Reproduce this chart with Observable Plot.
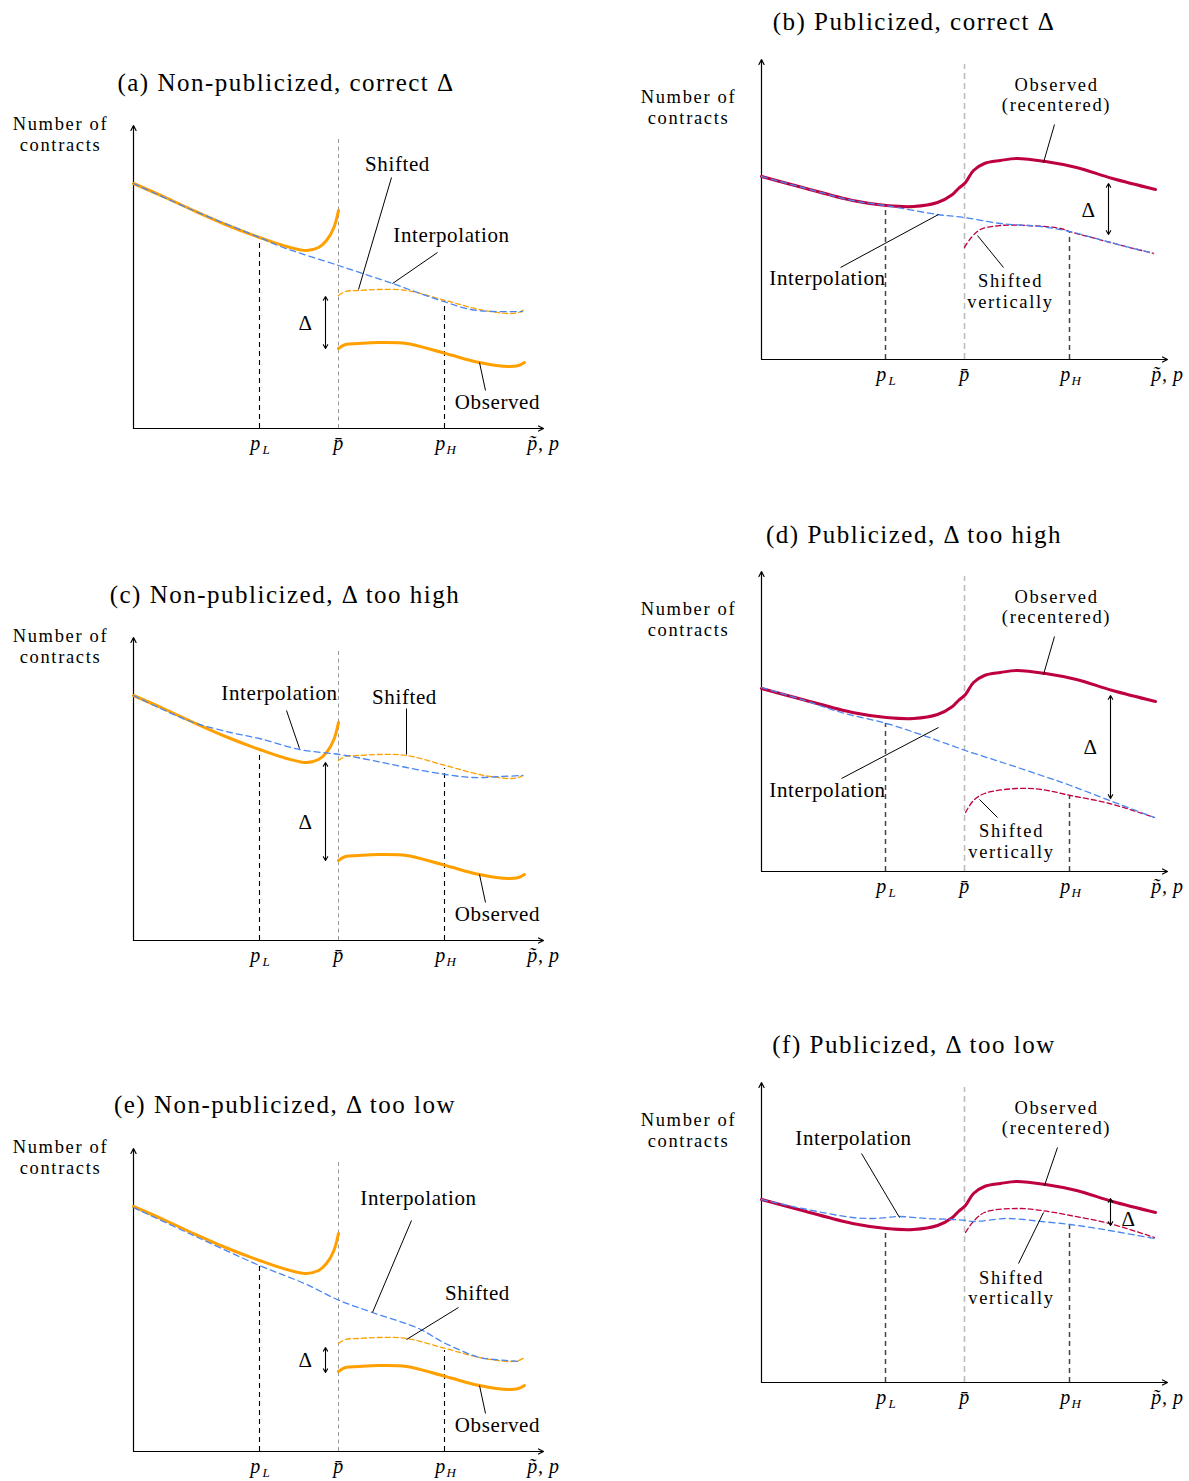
<!DOCTYPE html>
<html>
<head>
<meta charset="utf-8">
<script src="https://cdn.jsdelivr.net/npm/d3@7"></script>
<script src="https://cdn.jsdelivr.net/npm/@observablehq/plot@0.6"></script>
<style>
  body { margin: 0; background: #fff; }
  #fig { position: relative; width: 1189px; height: 1481px; font-family: "Liberation Serif", serif; background: #fff; }
  .title { position: absolute; width: 600px; text-align: center; font-size: 25px; line-height: 30px; letter-spacing: 0.06em; white-space: nowrap; color: #000; }
</style>
</head>
<body>
<div id="fig"></div>
<script>
// ---------------- DATA (x = price, y = number of contracts, arbitrary units) ----------------
const panelTitles = [
  "(a) Non-publicized, correct \u0394", "(b) Publicized, correct \u0394",
  "(c) Non-publicized, \u0394 too high", "(d) Publicized, \u0394 too high",
  "(e) Non-publicized, \u0394 too low", "(f) Publicized, \u0394 too low"
];
const tickMain = ["p", "p\u0304", "p", "p\u0303, p"];
const tickSub = ["L", "", "H", ""];
const leftTicks = [12.6, 20.5, 31.1, 41];
const rightTicks = [12.4, 20.3, 30.8, 40.6];

// Non-publicized (left column): observed curve (same in a, c, e)
const npObsLeftX = [0, 3.2, 6, 9.2, 12.6, 15.3, 17.3, 18.5, 19.3, 20, 20.5];
const npObsLeftY = [24.5, 23.1, 21.8, 20.4, 19.1, 18.2, 17.8, 18.1, 18.8, 20, 21.8];
const npObsRightX = [20.5, 21.2, 22.5, 24.5, 27.3, 31.2, 34.6, 37.5, 38.5, 39.1];
const npObsRightY = [8.0, 8.4, 8.5, 8.6, 8.5, 7.5, 6.6, 6.2, 6.3, 6.6];
// shifted curves (same x as npObsRightX)
const aShiftY = [13.3, 13.7, 13.8, 13.9, 13.8, 12.8, 11.9, 11.5, 11.6, 11.9];
const cShiftY = [18.0, 18.4, 18.5, 18.6, 18.5, 17.5, 16.6, 16.2, 16.3, 16.6];
const eShiftY = [10.8, 11.2, 11.3, 11.4, 11.3, 10.3, 9.4, 9.0, 9.1, 9.4];
// interpolations
const aInterpX = [0, 6, 12.6, 14.7, 20.5, 25.9, 28.4, 31, 33.7, 36, 38.9];
const aInterpY = [24.5, 21.8, 19.1, 18.2, 16.3, 14.5, 13.6, 12.7, 11.9, 11.7, 11.7];
const cInterpX = [0, 2.7, 6, 9.7, 12.6, 16.6, 20.6, 23.9, 27.3, 31.2, 33.9, 36.8, 38.9];
const cInterpY = [24.5, 23.2, 21.8, 20.8, 20.2, 19.1, 18.6, 18.0, 17.3, 16.6, 16.3, 16.4, 16.5];
const eInterpX = [0, 6, 12.6, 17.1, 20.6, 23.9, 28.5, 31.2, 34.6, 36.1, 38.6];
const eInterpY = [24.4, 21.6, 18.6, 16.8, 15.1, 13.9, 12.3, 10.8, 9.4, 9.2, 9.0];

// Publicized (right column): observed (recentered), same in b, d, f
const pubObsX = [0, 4.1, 9.1, 12.5, 15.2, 17.6, 19.1, 19.7, 20.4, 21.2, 22.3, 23.9, 25.5, 28.4, 31.5, 35.1, 39.4];
const pubObsY = [18.3, 17.2, 15.9, 15.4, 15.3, 15.7, 16.5, 17.1, 17.7, 18.9, 19.6, 19.9, 20.1, 19.8, 19.2, 18.1, 17.0];
const bInterpX = [0, 4.1, 9.1, 12.4, 17.6, 20.3, 23.9, 27.9, 30.8, 34.9, 39.2];
const bInterpY = [18.3, 17.2, 15.9, 15.4, 14.5, 14.2, 13.6, 13.3, 12.8, 11.7, 10.6];
const bShiftX = [20.3, 20.9, 21.9, 23.9, 26.6, 29.9, 30.8, 34.9, 39.2];
const bShiftY = [11.2, 12.1, 13.0, 13.4, 13.4, 13.1, 12.8, 11.7, 10.6];
const dInterpX = [0, 3.7, 8, 12.5, 16.2, 20.4, 24.4, 28, 30.9, 34.8, 39.3];
const dInterpY = [18.4, 17.3, 15.9, 14.8, 13.6, 12.1, 10.8, 9.6, 8.6, 7.1, 5.4];
const dShiftX = [20.4, 21.2, 22.3, 25.5, 28, 30.9, 34.8, 39.3];
const dShiftY = [5.9, 7.1, 7.8, 8.3, 8.2, 7.6, 6.8, 5.4];
const fInterpX = [0, 4.1, 9.1, 11.2, 12.5, 13.7, 16.6, 19.1, 20.4, 21.2, 24.4, 26.2, 28, 30.9, 34.8, 39.3];
const fInterpY = [18.3, 17.4, 16.5, 16.4, 16.5, 16.6, 16.4, 16.3, 16.2, 16.1, 16.4, 16.3, 16.1, 15.8, 15.2, 14.4];
const fShiftX = [20.4, 21.1, 22.3, 25.5, 28, 30.9, 34.8, 39.3];
const fShiftY = [15.0, 16.0, 17.0, 17.4, 17.2, 16.7, 15.9, 14.5];

// Δ arrows (bounds of the gap), and guide tops
const deltaBounds = { a: [13.2, 8.0], b: [17.6, 12.5], c: [17.8, 8.0], d: [17.6, 7.3], e: [10.4, 7.9], f: [18.4, 15.7] };
const guideTops = { a: [19.1, 12.8], b: [15.4, 12.8], c: [19.2, 17.2], d: [14.8, 7.6], e: [19.1, 10.1], f: [15.2, 15.8] };

// ---------------- HELPERS ----------------
const pts = (xs, ys) => xs.map((x, i) => ({ x, y: ys[i] }));
const ORANGE = "#FFA000", BLUE = "#4A86F2", CRIMSON = "#BF0040";
const FONT = '"Liberation Serif", serif';
const fig = document.getElementById("fig");

function drawPanel(p) {
  const left = p.side === "left";
  const xMax = left ? 41 : 40.6;
  const yMax = left ? 30.3 : 30.0;
  const ticks = left ? leftTicks : rightTicks;
  const mL = left ? 133 : 131;
  const width = left ? 570 : 559;
  const plotW = Math.round(xMax * 10), plotH = Math.round(yMax * 10);
  const mT = 17, mB = 40;
  const height = mT + plotH + mB;
  const mR = width - mL - plotW;
  const pbarTop = left ? 29.2 : 29.5;
  const [dTop, dBot] = deltaBounds[p.id];
  const dMid = (dTop + dBot) / 2;
  const [gL, gH] = guideTops[p.id];

  const marks = [];
  // p-bar guide
  marks.push(Plot.ruleX([ticks[1]], {
    x: d => d, y1: 0, y2: pbarTop,
    stroke: left ? "#9a9a9a" : "#bdbdbd", strokeWidth: left ? 1 : 1.6,
    strokeDasharray: left ? "4,3.5" : "6,4"
  }));
  // pL, pH guides
  marks.push(Plot.ruleX([{ x: ticks[0], top: gL }, { x: ticks[2], top: gH }], {
    x: "x", y1: 0, y2: "top",
    stroke: left ? "#000" : "#444", strokeWidth: left ? 1.1 : 1.5, strokeDasharray: "5,4"
  }));
  // axes
  marks.push(Plot.arrow([{ x1: 0, y1: 0, x2: xMax, y2: 0 }, { x1: 0, y1: 0, x2: 0, y2: yMax }], {
    x1: "x1", y1: "y1", x2: "x2", y2: "y2", stroke: "#000", strokeWidth: 1.2, headLength: 7, headAngle: 55
  }));
  // curves
  const mainColor = left ? ORANGE : CRIMSON;
  for (const seg of p.observed) {
    marks.push(Plot.line(seg, { x: "x", y: "y", curve: "catmull-rom", stroke: mainColor, strokeWidth: 3 }));
  }
  marks.push(Plot.line(p.shifted, { x: "x", y: "y", curve: "catmull-rom", stroke: mainColor, strokeWidth: 1.3, strokeDasharray: "5,3" }));
  marks.push(Plot.line(p.interp, { x: "x", y: "y", curve: "catmull-rom", stroke: BLUE, strokeWidth: 1.3, strokeDasharray: "6,4" }));
  // Δ arrow (double-headed)
  marks.push(Plot.arrow([{ y2: dTop }, { y2: dBot }], {
    x1: p.deltaX, x2: p.deltaX, y1: dMid, y2: "y2", stroke: "#000", strokeWidth: 1.1, headLength: 6, headAngle: 60
  }));
  // leader lines
  marks.push(Plot.link(p.leaders, { x1: "x1", y1: "y1", x2: "x2", y2: "y2", stroke: "#000", strokeWidth: 1 }));
  // labels: single-line and two-line
  const yl = left ? 29.45 : 25.25;
  const labels = [{ x: -7.3, y: yl, t: "Number of\ncontracts" }, ...p.labels];
  marks.push(Plot.text(labels.filter(d => !d.t.includes("\n")), { x: "x", y: "y", text: "t", fontSize: 21, fontFamily: FONT, fill: "#000" }));
  marks.push(Plot.text(labels.filter(d => d.t.includes("\n")), { x: "x", y: "y", text: "t", fontSize: 18.5, lineHeight: 1.12, fontFamily: FONT, fill: "#000" }));
  // tick labels
  const tl = ticks.map((x, i) => ({ x, main: tickMain[i], sub: tickSub[i] }));
  marks.push(Plot.text(tl.filter(d => d.sub), {
    x: "x", y: 0, text: "main", fontSize: 20, fontStyle: "italic", fontFamily: FONT, fill: "#000", dy: 15, dx: -4
  }));
  marks.push(Plot.text(tl.filter(d => !d.sub), {
    x: "x", y: 0, text: "main", fontSize: 20, fontStyle: "italic", fontFamily: FONT, fill: "#000", dy: 15
  }));
  marks.push(Plot.text(tl.filter(d => d.sub), {
    x: "x", y: 0, text: "sub", fontSize: 13, fontStyle: "italic", fontFamily: FONT, fill: "#000", dy: 21, dx: 7
  }));

  const svg = Plot.plot({
    width, height, marginLeft: mL, marginRight: mR, marginTop: mT, marginBottom: mB,
    x: { domain: [0, xMax], axis: null },
    y: { domain: [0, yMax], axis: null },
    style: { fontFamily: FONT, letterSpacing: "0.06em", background: "transparent", overflow: "visible", position: "absolute",
      left: (left ? 0 : 630) + "px", top: (p.oy - mT - plotH) + "px", maxWidth: "none" },
    marks
  });
  // widen the tracking of two-line labels slightly (Palatino-like width)
  svg.querySelectorAll("text").forEach(el => {
    if (el.querySelectorAll("tspan").length > 1) el.style.letterSpacing = "0.09em";
  });
  fig.appendChild(svg);

  const t = document.createElement("div");
  t.className = "title";
  t.textContent = p.title;
  t.style.left = (p.tcx - 300) + "px";
  t.style.top = (p.tcy - 15) + "px";
  fig.appendChild(t);
}

const npObserved = [pts(npObsLeftX, npObsLeftY), pts(npObsRightX, npObsRightY)];
const obsLeader = { x1: 34.6, y1: 6.6, x2: 35.2, y2: 3.8 };
const pubObsLeader = { x1: 29.3, y1: 23.5, x2: 28.2, y2: 19.7 };
const pubObsLabels = [{ x: 29.5, y: 26.5, t: "Observed\n(recentered)" }];

const panels = [
  { id: "a", side: "left", oy: 428, title: panelTitles[0], tcx: 286, tcy: 83,
    observed: npObserved, shifted: pts(npObsRightX, aShiftY), interp: pts(aInterpX, aInterpY), deltaX: 19.2,
    leaders: [{ x1: 25.8, y1: 25.1, x2: 22.5, y2: 13.9 }, { x1: 30.4, y1: 17.6, x2: 25.9, y2: 14.5 }, obsLeader],
    labels: [{ x: 26.4, y: 26.4, t: "Shifted" }, { x: 31.8, y: 19.3, t: "Interpolation" }, { x: 36.4, y: 2.6, t: "Observed" }, { x: 17.2, y: 10.5, t: "\u0394" }] },
  { id: "c", side: "left", oy: 940, title: panelTitles[2], tcx: 285, tcy: 595,
    observed: npObserved, shifted: pts(npObsRightX, cShiftY), interp: pts(cInterpX, cInterpY), deltaX: 19.2,
    leaders: [{ x1: 15.3, y1: 23.0, x2: 16.6, y2: 19.2 }, { x1: 27.3, y1: 23.2, x2: 27.3, y2: 18.6 }, obsLeader],
    labels: [{ x: 14.6, y: 24.7, t: "Interpolation" }, { x: 27.1, y: 24.3, t: "Shifted" }, { x: 36.4, y: 2.6, t: "Observed" }, { x: 17.2, y: 11.8, t: "\u0394" }] },
  { id: "e", side: "left", oy: 1451, title: panelTitles[4], tcx: 285, tcy: 1105,
    observed: npObserved, shifted: pts(npObsRightX, eShiftY), interp: pts(eInterpX, eInterpY), deltaX: 19.2,
    leaders: [{ x1: 27.8, y1: 23.1, x2: 23.9, y2: 13.9 }, { x1: 32.5, y1: 14.4, x2: 27.3, y2: 11.2 }, obsLeader],
    labels: [{ x: 28.5, y: 25.3, t: "Interpolation" }, { x: 34.4, y: 15.8, t: "Shifted" }, { x: 36.4, y: 2.6, t: "Observed" }, { x: 17.2, y: 9.1, t: "\u0394" }] },
  { id: "b", side: "right", oy: 359, title: panelTitles[1], tcx: 914, tcy: 22,
    observed: [pts(pubObsX, pubObsY)], shifted: pts(bShiftX, bShiftY), interp: pts(bInterpX, bInterpY), deltaX: 34.7,
    leaders: [pubObsLeader, { x1: 7.9, y1: 9.2, x2: 17.7, y2: 14.5 }, { x1: 24.2, y1: 9.2, x2: 21.6, y2: 12.4 }],
    labels: [...pubObsLabels, { x: 6.6, y: 8.1, t: "Interpolation" }, { x: 24.9, y: 6.85, t: "Shifted\nvertically" }, { x: 32.7, y: 14.9, t: "\u0394" }] },
  { id: "d", side: "right", oy: 871, title: panelTitles[3], tcx: 914, tcy: 535,
    observed: [pts(pubObsX, pubObsY)], shifted: pts(dShiftX, dShiftY), interp: pts(dInterpX, dInterpY), deltaX: 34.9,
    leaders: [pubObsLeader, { x1: 8.0, y1: 9.3, x2: 17.7, y2: 14.4 }, { x1: 23.6, y1: 5.4, x2: 21.8, y2: 7.2 }],
    labels: [...pubObsLabels, { x: 6.6, y: 8.1, t: "Interpolation" }, { x: 25.0, y: 3.05, t: "Shifted\nvertically" }, { x: 32.9, y: 12.4, t: "\u0394" }] },
  { id: "f", side: "right", oy: 1382, title: panelTitles[5], tcx: 914, tcy: 1045,
    observed: [pts(pubObsX, pubObsY)], shifted: pts(fShiftX, fShiftY), interp: pts(fInterpX, fInterpY), deltaX: 34.9,
    leaders: [{ x1: 29.6, y1: 23.5, x2: 28.3, y2: 19.7 }, { x1: 10.0, y1: 22.9, x2: 13.8, y2: 16.5 }, { x1: 25.7, y1: 11.9, x2: 28.2, y2: 17.0 }],
    labels: [...pubObsLabels, { x: 9.2, y: 24.4, t: "Interpolation" }, { x: 25.0, y: 9.5, t: "Shifted\nvertically" }, { x: 36.7, y: 16.3, t: "\u0394" }] }
];

panels.forEach(drawPanel);
</script>
</body>
</html>
